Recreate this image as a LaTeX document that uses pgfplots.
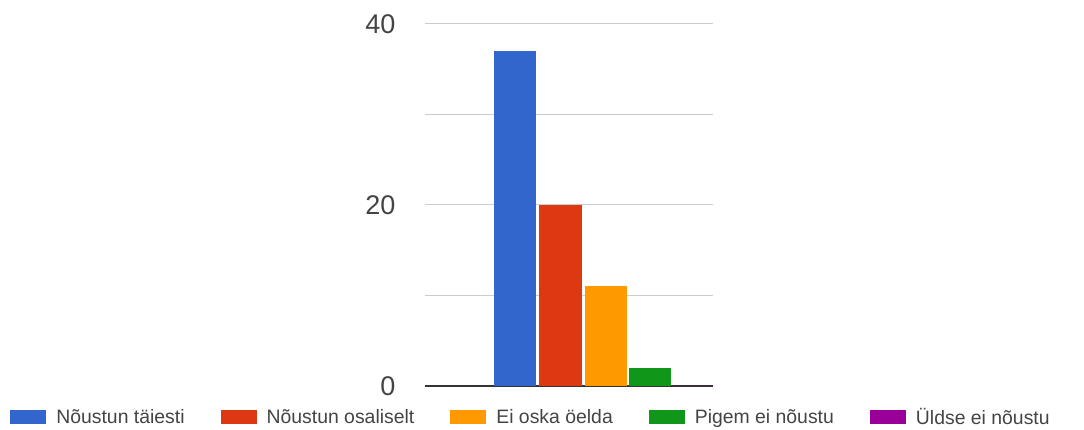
\documentclass[border=0pt]{standalone}
\usepackage{fontspec}
\setmainfont{Liberation Sans}
\usepackage{pgfplots}
\pgfplotsset{compat=1.18}
\definecolor{cblue}{HTML}{3366CC}
\definecolor{cred}{HTML}{DC3912}
\definecolor{corange}{HTML}{FF9900}
\definecolor{cgreen}{HTML}{109618}
\definecolor{cpurple}{HTML}{990099}
\definecolor{gridc}{HTML}{CCCCCC}
\definecolor{txt}{HTML}{444444}
\begin{document}
\begin{tikzpicture}[x=1pt,y=1pt]
\useasboundingbox (0,0) rectangle (1084,430);
\begin{axis}[
  at={(425pt,44pt)}, anchor=south west,
  scale only axis, width=288pt, height=362pt,
  xmin=425, xmax=713, ymin=0, ymax=40,
  axis line style={draw=none},
  tick style={draw=none},
  xtick=\empty,
  ytick={10,20,30,40},
  yticklabels={,20,,40},
  extra y ticks={0},
  extra y tick labels={0},
  extra y tick style={grid style={draw=black!80, line width=1.6pt}},
  ymajorgrids,
  grid style={draw=gridc, line width=1pt},
  /pgf/number format/assume math mode=true,
  yticklabel style={font=\fontsize{27}{30}\selectfont, text=txt, xshift=-26pt},
  clip=false,
  legend columns=5,
  legend style={at={(0.3715,-0.0856)}, anchor=center, draw=none, fill=none,
    font=\fontsize{19.4}{22}\selectfont, text=txt,
    /tikz/every odd column/.append style={column sep=6pt},
    /tikz/every even column/.append style={column sep=32pt},
    nodes={inner sep=4pt}},
  legend image code/.code={\fill[#1] (0pt,-7pt) rectangle (36pt,7pt);},
]
\addplot[ybar, bar shift=0pt, bar width=42, fill=cblue, draw=none] coordinates {(515,37)};
\addlegendentry{Nõustun täiesti}
\addplot[ybar, bar shift=0pt, bar width=43, fill=cred, draw=none] coordinates {(560,20)};
\addlegendentry{Nõustun osaliselt}
\addplot[ybar, bar shift=0pt, bar width=42, fill=corange, draw=none] coordinates {(605.5,11)};
\addlegendentry{Ei oska öelda}
\addplot[ybar, bar shift=0pt, bar width=42, fill=cgreen, draw=none] coordinates {(649.5,2)};
\addlegendentry{Pigem ei nõustu}
\addplot[ybar, bar shift=0pt, bar width=42, fill=cpurple, draw=none] coordinates {(694,0)};
\addlegendentry{Üldse ei nõustu}
\end{axis}
\end{tikzpicture}
\end{document}
